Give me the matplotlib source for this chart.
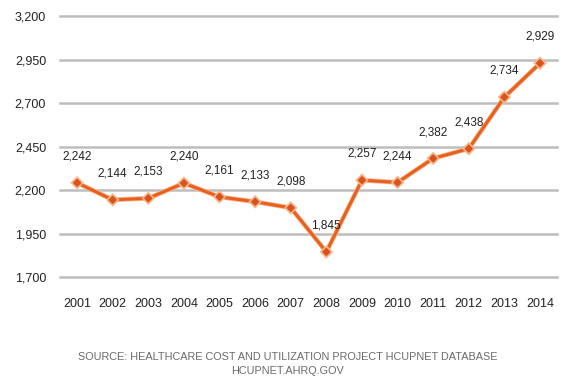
import matplotlib
matplotlib.use("Agg")
import matplotlib.pyplot as plt
import matplotlib.patheffects as pe

years = ["2001", "2002", "2003", "2004", "2005", "2006", "2007",
         "2008", "2009", "2010", "2011", "2012", "2013", "2014"]
values = [2242, 2144, 2153, 2240, 2161, 2133, 2098,
          1845, 2257, 2244, 2382, 2438, 2734, 2929]
y_ticks = [1700, 1950, 2200, 2450, 2700, 2950, 3200]
source_lines = ["SOURCE: HEALTHCARE COST AND UTILIZATION PROJECT HCUPNET DATABASE",
                "HCUPNET.AHRQ.GOV"]

plt.rcParams["font.family"] = ["Liberation Sans", "DejaVu Sans"]

fig = plt.figure(figsize=(5.61, 3.86), dpi=100)
ax = fig.add_axes([0.107, 0.282, 0.886, 0.6765])

x = list(range(len(years)))
ax.set_xlim(-0.48, 13.48)
ax.set_ylim(1700, 3200)

for t in y_ticks:
    ax.axhline(t, color="#bdbdbd", lw=1.8, zorder=1, clip_on=False)

ax.plot(x, values, color="#E8601E", lw=2.2, marker="D", markersize=3.5,
        markerfacecolor="#D9541A", markeredgecolor="#D9541A", zorder=3,
        path_effects=[pe.Stroke(linewidth=3.4, foreground="#F7B48A"), pe.Normal()])

for xi, v in zip(x, values):
    ax.annotate(f"{v:,}", (xi, v), xytext=(0, 19), textcoords="offset points",
                ha="center", va="center", fontsize=8.5, color="#222222")

ax.set_xticks(x)
ax.set_xticklabels(years)
ax.set_yticks(y_ticks)
ax.set_yticklabels([f"{t:,}" for t in y_ticks])
ax.tick_params(axis="both", length=0, labelsize=9, colors="#222222")
ax.tick_params(axis="x", pad=15)
ax.tick_params(axis="y", pad=10)
for s in ax.spines.values():
    s.set_visible(False)

fig.text(0.513, 1 - 357 / 386, source_lines[0], ha="center", va="center",
         fontsize=7.8, color="#6a6a6a")
fig.text(0.513, 1 - 371 / 386, source_lines[1], ha="center", va="center",
         fontsize=7.8, color="#6a6a6a")

fig.savefig("out.png", dpi=100, facecolor="white")
